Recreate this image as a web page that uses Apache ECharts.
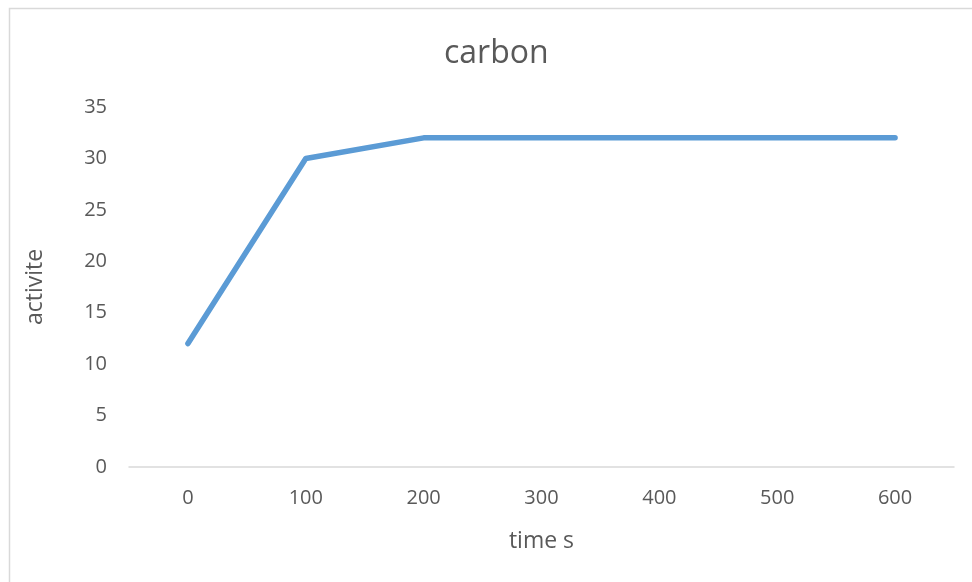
<!DOCTYPE html>
<html>
<head>
<meta charset="utf-8">
<script src="https://cdn.jsdelivr.net/npm/echarts@6/dist/echarts.min.js"></script>
<style>
  html, body { margin: 0; padding: 0; background: #ffffff; }
  #chart { width: 972px; height: 582px; }
</style>
</head>
<body>
<div id="chart"></div>
<script>
// Sample times (s) and measured activity
const times = ['0', '100', '200', '300', '400', '500', '600'];
const activity = [12, 30, 32, 32, 32, 32, 32];
const yTicks = [0, 5, 10, 15, 20, 25, 30, 35];

const textColor = '#595959';
const fontFamily = '"Open Sans", "Noto Sans", sans-serif';

const chart = echarts.init(document.getElementById('chart'), null, { renderer: 'canvas' });

chart.setOption({
  backgroundColor: '#ffffff',
  animation: false,
  title: {
    text: 'carbon',
    left: 439,
    top: 33,
    textStyle: { color: textColor, fontSize: 32, fontWeight: 'normal', fontFamily: fontFamily }
  },
  graphic: [{
    type: 'rect',
    shape: { x: 9.5, y: 8.5, width: 980, height: 600 },
    style: { fill: 'none', stroke: '#d9d9d9', lineWidth: 1.5 },
    silent: true
  }],
  grid: { left: 129, right: 18, top: 107, bottom: 115, containLabel: false },
  xAxis: {
    type: 'category',
    data: times,
    boundaryGap: true,
    name: 'time s',
    nameLocation: 'middle',
    nameGap: 63,
    nameTextStyle: { color: textColor, fontSize: 23, fontFamily: fontFamily },
    axisLine: { show: true, lineStyle: { color: '#d9d9d9', width: 1.5 } },
    axisTick: { show: false },
    axisLabel: { color: textColor, fontSize: 20, fontFamily: fontFamily, margin: 21 },
    splitLine: { show: false }
  },
  yAxis: {
    type: 'value',
    min: yTicks[0],
    max: yTicks[yTicks.length - 1],
    interval: yTicks[1] - yTicks[0],
    name: 'activite',
    nameLocation: 'middle',
    nameGap: 82,
    nameRotate: 90,
    nameTextStyle: { color: textColor, fontSize: 23, fontFamily: fontFamily },
    axisLine: { show: false },
    axisTick: { show: false },
    axisLabel: { color: textColor, fontSize: 20, fontFamily: fontFamily, margin: 22 },
    splitLine: { show: false }
  },
  series: [{
    type: 'line',
    data: activity,
    symbol: 'none',
    lineStyle: { color: '#5b9bd5', width: 5.5, cap: 'round', join: 'round' },
    itemStyle: { color: '#5b9bd5' }
  }]
});
</script>
</body>
</html>
